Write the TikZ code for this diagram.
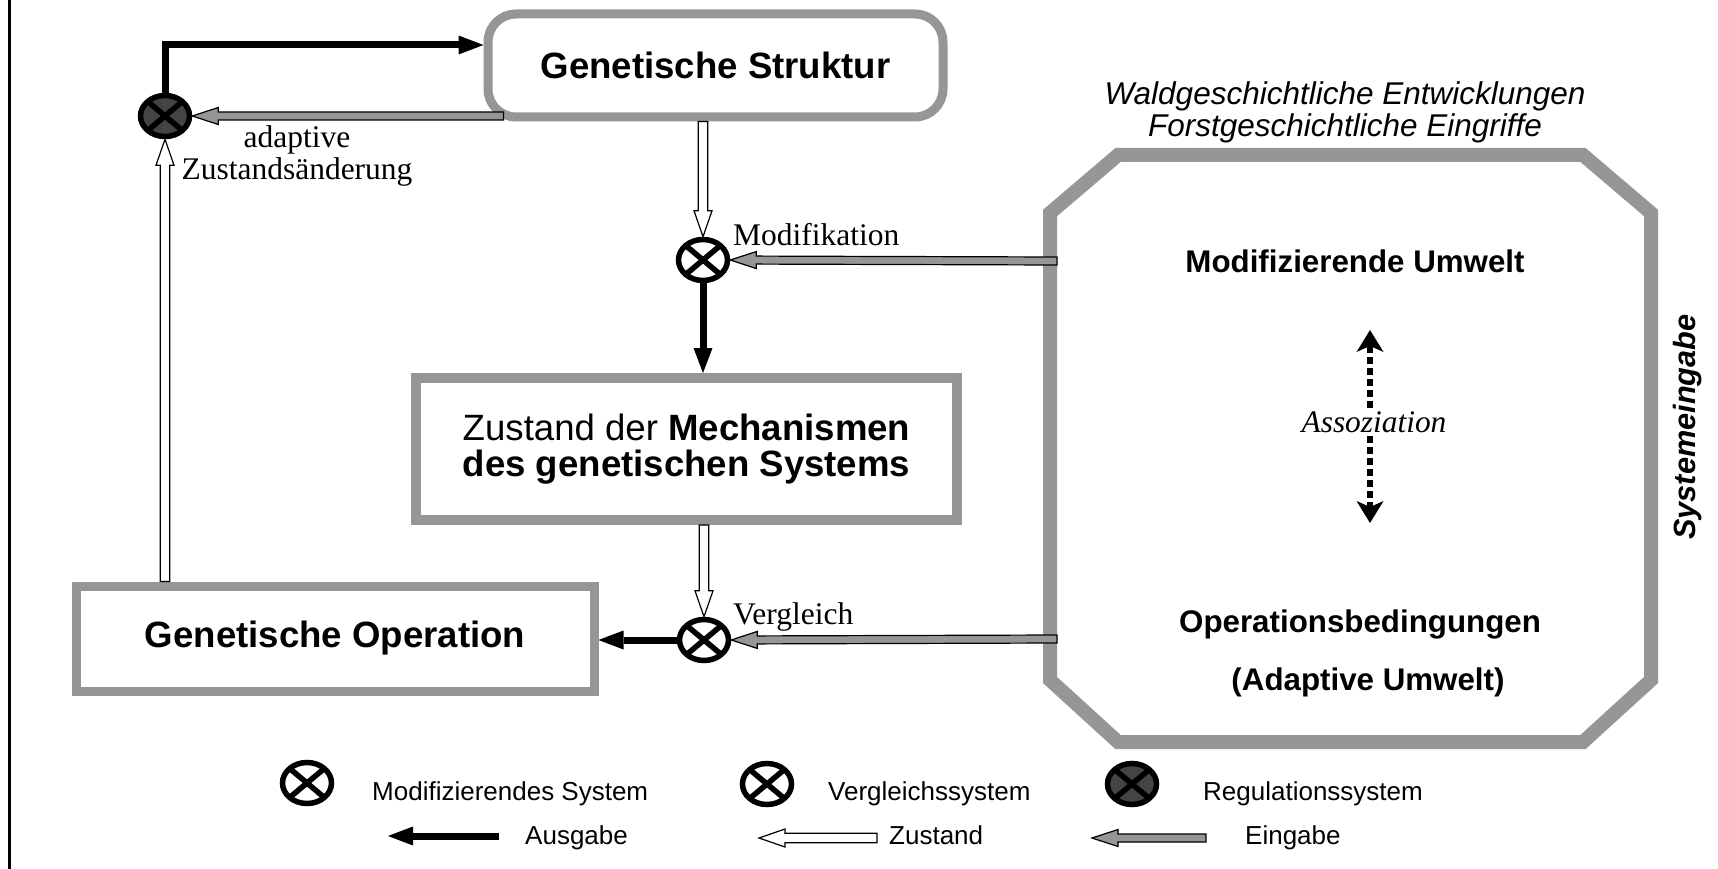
\documentclass[tikz,border=0pt]{standalone}
\usepackage{fontspec}
\setmainfont{Liberation Serif}
\setsansfont{Liberation Sans}
\usetikzlibrary{arrows.meta,calc,shapes.geometric}
\definecolor{boxgray}{RGB}{150,150,150}
\definecolor{arrowgray}{RGB}{150,150,150}
\definecolor{reggray}{RGB}{68,68,68}
\newcommand{\fsz}[1]{\fontsize{#1}{#1}\selectfont}
\begin{document}
\begin{tikzpicture}[x=1pt,y=-1pt,
  fatarrow/.style n args={3}{to path={
     let \p1=(\tikztostart), \p2=(\tikztotarget), \n1={atan2(\y2-\y1,\x2-\x1)} in
     ($(\p1)+(\n1+90:#1)$) -- ($(\p2)+(\n1:-#2)+(\n1+90:#1)$) -- ($(\p2)+(\n1:-#2)+(\n1+90:#3)$) -- (\p2)
     -- ($(\p2)+(\n1:-#2)+(\n1-90:#3)$) -- ($(\p2)+(\n1:-#2)+(\n1-90:#1)$) -- ($(\p1)+(\n1-90:#1)$) -- cycle}},
  cbox/.style={draw=boxgray, line width=9pt, fill=white, inner sep=0pt, align=center,
     font=\sffamily\bfseries\fsz{36.6}},
  outarr/.style={line width=7pt, -{Triangle[length=25pt, width=19pt, line width=0pt]}},
  statearr/.style={fatarrow={4.7pt}{26pt}{9pt}, fill=white, draw=black, line width=1.2pt},
  inarr/.style={fatarrow={4pt}{26pt}{8.5pt}, fill=arrowgray, draw=black, line width=1.2pt},
  assoc/.style={line width=6pt, dash pattern=on 7pt off 4pt,
     -{Stealth[length=22pt, width=27pt, inset=6pt, line width=0pt]}},
  combi/.style={ellipse, minimum width=49pt, minimum height=41pt, inner sep=0pt, draw=black,
     line width=5.5pt, path picture={\draw[line width=5.5pt]
       (path picture bounding box.north west) -- (path picture bounding box.south east)
       (path picture bounding box.north east) -- (path picture bounding box.south west);}},
  modsys/.style={combi, fill=white},
  regsys/.style={combi, fill=reggray},
  serlabel/.style={font=\fsz{31.5}, inner sep=0pt},
  envtext/.style={font=\sffamily\bfseries\fsz{31.3}, anchor=base, inner sep=0pt},
  legtext/.style={font=\sffamily\fsz{26}, anchor=base west, inner sep=0pt}
]
\useasboundingbox (0,0) rectangle (1718,869);
\fill[white] (0,0) rectangle (1718,869);

% left frame line
\draw[line width=3.5pt] (9.6,0) -- (9.6,869);

% boxes
\node[cbox, rounded corners=28pt, minimum width=455pt, minimum height=103pt] (gs) at (715.5,65.5) {Genetische Struktur};
\node[cbox, line width=10pt, minimum width=541pt, minimum height=142pt] (mech) at (686.5,449)
   {{\mdseries Zustand der} Mechanismen\\des genetischen Systems};
\node[cbox, minimum width=518pt, minimum height=105pt] (go) at (335,638.5) {Genetische Operation};

% environment octagon
\draw[boxgray, line width=14pt] (1050,213) -- (1118,155) -- (1583,155) -- (1651,213)
   -- (1651,680) -- (1583,742) -- (1118,742) -- (1050,680) -- cycle;
\coordinate (envM) at (1057,261);
\coordinate (envO) at (1057,639);

% combinators
\node[regsys] (reg) at (165,116) {};
\node[modsys] (mod) at (703,260) {};
\node[modsys] (verg) at (704,640) {};

% connectors
\coordinate (top) at (0,45);
\draw[outarr] (reg.north) |- (gs.west |- top);
\draw[inarr] ($(gs.west |- reg)+(20,0)$) to (reg.east);
\draw[statearr] (gs.south -| mod) to (mod.north);
\draw[outarr] (mod.south) -- (mech.north -| mod);
\draw[statearr] (mech.south -| verg) to (verg.north);
\draw[outarr] (verg.west) -- (go.east |- verg);
\draw[statearr] (go.north -| reg) to (reg.south);
\draw[inarr] (envM) to (mod.east);
\draw[inarr] (envO) to (verg.east);

% labels
\node[serlabel, anchor=base] (ladapt) at (297,148) {adaptive};
\node[serlabel, anchor=base] (lzust) at (297,180) {Zustandsänderung};
\node[serlabel, anchor=base west] (lmod) at (733,245) {Modifikation};
\node[serlabel, anchor=base west] (lverg) at (733,624) {Vergleich};

% environment texts
\node[font=\sffamily\itshape\fsz{31.5}, anchor=base, inner sep=0pt] (wald) at (1345,105) {Waldgeschichtliche Entwicklungen};
\node[font=\sffamily\itshape\fsz{31.5}, anchor=base, inner sep=0pt] (forst) at (1345,137) {Forstgeschichtliche Eingriffe};
\node[envtext] (modu) at (1355,272) {Modifizierende Umwelt};
\node[envtext] (opb) at (1360,632) {Operationsbedingungen};
\node[envtext] (adu) at (1368,690) {(Adaptive Umwelt)};
\node[font=\itshape\fsz{31.4}, anchor=base] (asso) at (1374,432) {Assoziation};
\coordinate (aup) at (1370,330);
\coordinate (adn) at (1370,523);
\draw[assoc] (asso.north -| aup) -- (aup);
\draw[assoc] (asso.south -| adn) -- (adn);
\node[font=\sffamily\bfseries\itshape\fsz{30.7}, rotate=90, anchor=base, inner sep=0pt] (syse) at (1695,427) {Systemeingabe};

% legend
\node[modsys] (lg1) at (307,783) {};
\node[modsys] (lg2) at (767,784) {};
\node[regsys] (lg3) at (1132,784) {};
\node[legtext] (lt1) at (372,800) {Modifizierendes System};
\node[legtext] (lt2) at (828,800) {Vergleichssystem};
\node[legtext] (lt3) at (1203,800) {Regulationssystem};
\coordinate (la1s) at (499,836);
\coordinate (la1e) at (388,836);
\coordinate (la2s) at (877,838);
\coordinate (la2e) at (759,838);
\coordinate (la3s) at (1206,838);
\coordinate (la3e) at (1092,838);
\draw[outarr] (la1s) -- (la1e);
\draw[statearr] (la2s) to (la2e);
\draw[inarr] (la3s) to (la3e);
\node[legtext] (lt4) at (525,844) {Ausgabe};
\node[legtext] (lt5) at (889,844) {Zustand};
\node[legtext] (lt6) at (1245,844) {Eingabe};
\end{tikzpicture}
\end{document}
